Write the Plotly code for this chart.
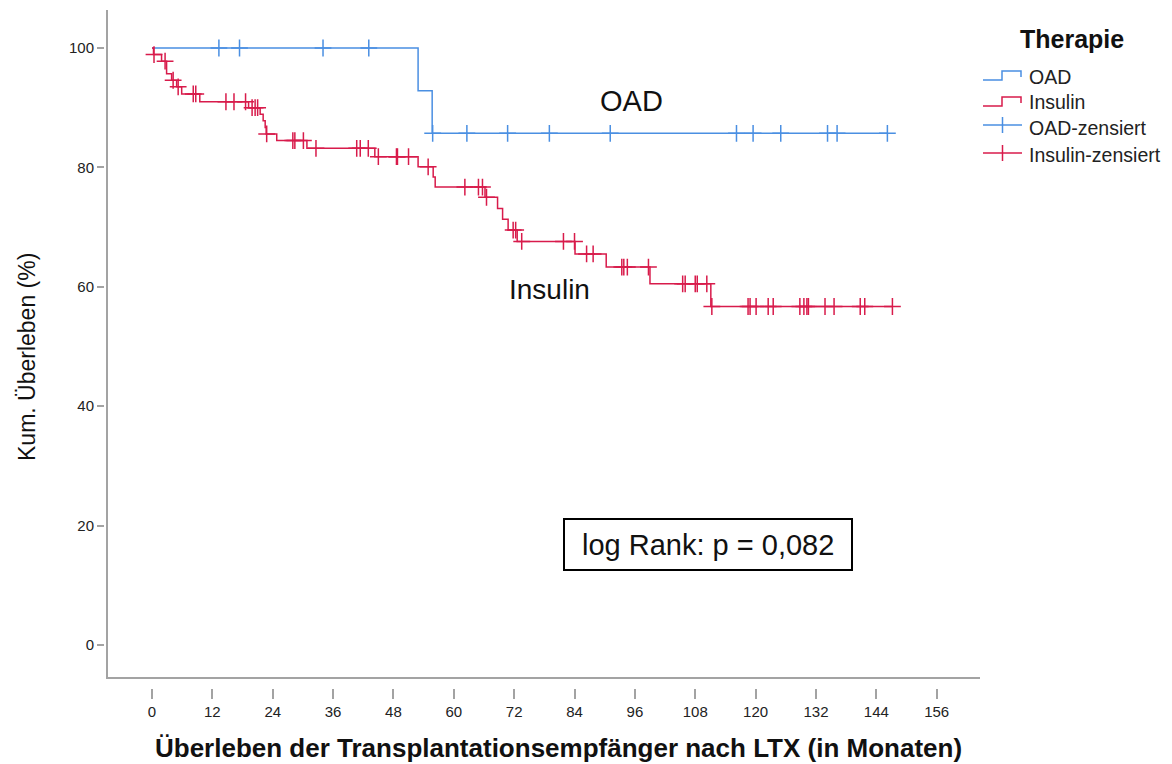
import numpy as np
import plotly.graph_objects as go

# ---------------- data ----------------
oad_step_t = [0, 52.9, 55.7]
oad_step_v = [100, 92.86, 85.71]
oad_end_t = 146.2
oad_cens_t = [13.3, 17.4, 34.0, 43.1, 55.8, 62.6, 70.7, 79.0, 91.1,
              116.2, 119.5, 125.0, 134.3, 136.2, 146.2]

ins_step_t = [0, 0.3, 1.9, 2.9, 3.9, 4.9, 5.9, 9.5, 19.2, 21.5, 22.1, 22.5,
              22.7, 24.8, 30.8, 44.3, 52.9, 55.9, 56.3, 66.2, 68.7, 69.7,
              70.8, 72.6, 84.1, 90.3, 99.0, 111.1]
ins_step_v = [100, 98.9, 97.8, 95.7, 94.6, 93.5, 92.3, 91.0, 90.0, 88.9, 87.8,
              86.7, 85.6, 84.5, 83.2, 81.8, 80.1, 78.4, 76.7, 75.0, 73.1,
              71.3, 69.5, 67.6, 65.5, 63.3, 60.5, 56.7]
ins_end_t = 147.2
ins_cens_t = [0.4, 2.6, 4.2, 5.2, 8.2, 8.7, 14.7, 16.3, 18.6, 19.9, 20.5, 21.0,
              22.8, 28.0, 28.4, 30.1, 32.6, 40.7, 41.4, 43.0, 45.0, 48.6, 48.8,
              51.0, 54.9, 62.2, 64.9, 65.7, 66.5, 71.8, 72.3, 73.5, 81.8, 84.0,
              86.4, 87.7, 93.4, 93.8, 94.5, 98.7, 105.5, 106.0, 108.0, 108.4,
              110.3, 111.3, 118.5, 118.9, 120.1, 122.5, 123.5, 128.8, 129.6,
              130.2, 130.5, 133.8, 135.6, 140.8, 141.7, 147.2]

x_ticks = list(range(0, 157, 12))
y_ticks = [0, 20, 40, 60, 80, 100]

group_names = ["OAD", "Insulin"]
legend_labels = ["OAD", "Insulin", "OAD-zensiert", "Insulin-zensiert"]
legend_title = "Therapie"
x_title = "Überleben der Transplantationsempfänger nach LTX (in Monaten)"
y_title = "Kum. Überleben (%)"
logrank_text = "log Rank: p = 0,082"

# ---------------- styling ----------------
BLUE = "#4A8FE2"
RED = "#D81B4B"
AXIS = "#A3A3A3"
FONT = "Liberation Sans, Arial, sans-serif"
OFF = 8                     # page body margin
W, H = 1172 - OFF, 764 - OFF
L, R, T, B = 105, 980, 10, 688  # plot area in window pixels


def px(x):
    return (x - L) / (R - L)


def py(y):
    return (B - y) / (B - T)


def surv_at(step_t, step_v, t):
    idx = np.searchsorted(np.array(step_t), np.array(t), side="right") - 1
    return list(np.array(step_v)[idx])


fig = go.Figure()

for st, sv, end, cens, col, name in [
    (oad_step_t, oad_step_v, oad_end_t, oad_cens_t, BLUE, group_names[0]),
    (ins_step_t, ins_step_v, ins_end_t, ins_cens_t, RED, group_names[1]),
]:
    fig.add_trace(go.Scatter(
        x=st + [end], y=sv + [sv[-1]], mode="lines", line_shape="hv",
        line=dict(color=col, width=1.5), name=name, showlegend=False,
        hoverinfo="skip"))
    fig.add_trace(go.Scatter(
        x=cens, y=surv_at(st, sv, cens), mode="markers",
        marker=dict(symbol="cross-thin", size=12,
                    line=dict(color=col, width=1.5)),
        name=name + "-zensiert", showlegend=False, hoverinfo="skip"))

shapes = []
# axis lines (detached from ticks, as in the reference)
shapes.append(dict(type="line", xref="paper", yref="paper",
                   x0=px(107), x1=px(107), y0=py(678), y1=py(10),
                   line=dict(color=AXIS, width=2)))
shapes.append(dict(type="line", xref="paper", yref="paper",
                   x0=px(106), x1=px(980), y0=py(678), y1=py(678),
                   line=dict(color=AXIS, width=2)))
# log rank box
shapes.append(dict(type="rect", xref="paper", yref="paper",
                   x0=px(564), x1=px(852), y0=py(570), y1=py(519),
                   line=dict(color="black", width=2), fillcolor="white",
                   layer="above"))


def path_paper(points):
    return "M " + " L ".join(f"{px(a):.5f},{py(b):.5f}" for a, b in points)


# legend icons
shapes.append(dict(type="path", xref="paper", yref="paper",
                   path=path_paper([(983, 80), (1002, 80), (1002, 71), (1021, 71), (1021, 77)]),
                   line=dict(color=BLUE, width=1.5)))
shapes.append(dict(type="path", xref="paper", yref="paper",
                   path=path_paper([(983, 106), (1002, 106), (1002, 97), (1021, 97), (1021, 103)]),
                   line=dict(color=RED, width=1.5)))
for yc, col in [(125, BLUE), (153, RED)]:
    shapes.append(dict(type="line", xref="paper", yref="paper",
                       x0=px(983), x1=px(1022), y0=py(yc), y1=py(yc),
                       line=dict(color=col, width=1.5)))
    shapes.append(dict(type="line", xref="paper", yref="paper",
                       x0=px(1002.5), x1=px(1002.5), y0=py(yc - 8), y1=py(yc + 8),
                       line=dict(color=col, width=1.5)))

ann = []
ann.append(dict(xref="paper", yref="paper", x=px(1072), y=py(39),
                text="<b>" + legend_title + "</b>", showarrow=False,
                font=dict(family=FONT, size=25, color="#111"),
                xanchor="center", yanchor="middle"))
for lab, yc in zip(legend_labels, [77, 102, 128, 155]):
    ann.append(dict(xref="paper", yref="paper", x=px(1027), y=py(yc),
                    text=lab, showarrow=False,
                    font=dict(family=FONT, size=19.5, color="#222"),
                    xanchor="left", yanchor="middle"))
# curve labels
ann.append(dict(xref="x", yref="y", x=95.4, y=91.1, text=group_names[0],
                showarrow=False, font=dict(family=FONT, size=29, color="#111"),
                xanchor="center", yanchor="middle"))
ann.append(dict(xref="x", yref="y", x=79.1, y=59.6, text=group_names[1],
                showarrow=False, font=dict(family=FONT, size=28, color="#111"),
                xanchor="center", yanchor="middle"))
# log rank
ann.append(dict(xref="paper", yref="paper", x=px(708), y=py(545),
                text=logrank_text, showarrow=False,
                font=dict(family=FONT, size=29, color="#111"),
                xanchor="center", yanchor="middle"))
# axis titles
ann.append(dict(xref="paper", yref="paper", x=px(558), y=py(748),
                text="<b>" + x_title + "</b>", showarrow=False,
                font=dict(family=FONT, size=26, color="#111"),
                xanchor="center", yanchor="middle"))
ann.append(dict(xref="paper", yref="paper", x=px(27), y=py(357),
                text=y_title, showarrow=False, textangle=-90,
                font=dict(family=FONT, size=23, color="#111"),
                xanchor="center", yanchor="middle"))

fig.update_layout(
    width=W, height=H,
    margin=dict(l=L - OFF, r=1172 - R, t=T - OFF, b=764 - B, pad=0),
    paper_bgcolor="white", plot_bgcolor="white",
    showlegend=False,
    shapes=shapes, annotations=ann,
    xaxis=dict(range=[(L - 152) / 5.03, (R - 152) / 5.03],
               tickvals=x_ticks, ticktext=[str(v) for v in x_ticks],
               ticks="outside", ticklen=10, tickwidth=1.5, tickcolor=AXIS,
               showline=False, showgrid=False, zeroline=False,
               tickfont=dict(family=FONT, size=15, color="#222")),
    yaxis=dict(range=[(645 - B) / 5.97, (645 - T) / 5.97],
               tickvals=y_ticks, ticktext=[str(v) for v in y_ticks],
               ticks="outside", ticklen=7, tickwidth=1.5, tickcolor=AXIS,
               showline=False, showgrid=False, zeroline=False,
               tickfont=dict(family=FONT, size=15, color="#222")),
)

fig.write_html("out.html")
